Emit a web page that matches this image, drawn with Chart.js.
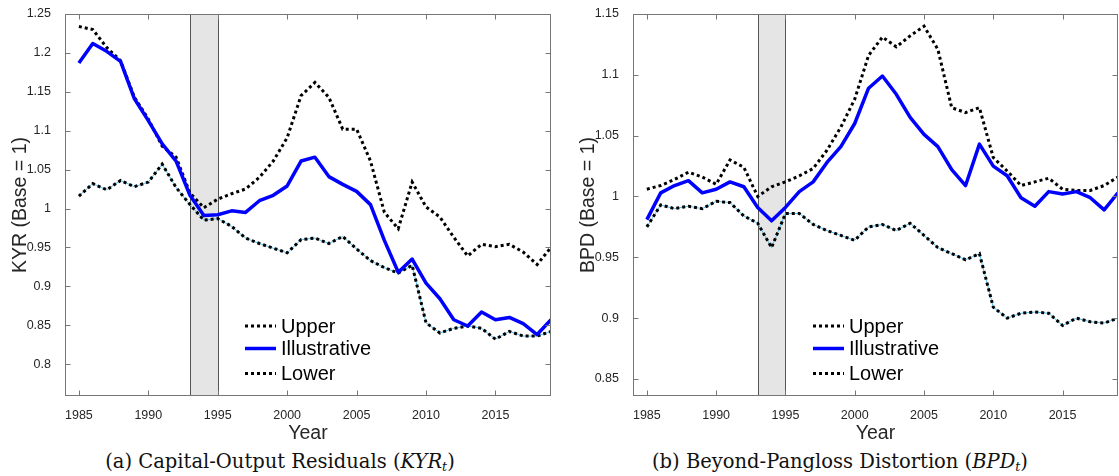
<!DOCTYPE html>
<html lang="en">
<head>
    <meta charset="UTF-8">
    <title>KYR and BPD bounds</title>
    <script src="https://cdn.jsdelivr.net/npm/chart.js@4.4.0/dist/chart.umd.min.js"></script>
    <style>
        body { margin: 0; background: #fff; }
        .page { position: relative; width: 1119px; height: 476px; overflow: hidden; }
        .panel { position: absolute; top: 0; }
        .caption {
            position: absolute;
            top: 450px;
            width: 560px;
            text-align: center;
            font-family: 'DejaVu Serif', 'Liberation Serif', serif;
            font-size: 19.5px;
            color: #111;
            white-space: nowrap;
        }
        .caption sub { font-size: 12.5px; vertical-align: -3px; }
    </style>
</head>
<body>
<div class="page">
    <div class="panel" style="left:0px;width:560px;height:445px;">
        <canvas id="kyrChart" width="560" height="445"></canvas>
    </div>
    <div class="panel" style="left:568px;width:551px;height:445px;">
        <canvas id="bpdChart" width="551" height="445"></canvas>
    </div>
    <div class="caption" style="left:0px;">(a) Capital-Output Residuals (<i>KYR</i><sub><i>t</i></sub>)</div>
    <div class="caption" style="left:560px;">(b) Beyond-Pangloss Distortion (<i>BPD</i><sub><i>t</i></sub>)</div>
</div>
<script>
    var years = [1985, 1986, 1987, 1988, 1989, 1990, 1991, 1992, 1993, 1994,
                 1995, 1996, 1997, 1998, 1999, 2000, 2001, 2002, 2003, 2004,
                 2005, 2006, 2007, 2008, 2009, 2010, 2011, 2012, 2013, 2014,
                 2015, 2016, 2017, 2018, 2019];

    // panel (a) KYR
    var kyrUpper = [1.234, 1.230, 1.207, 1.190, 1.143, 1.115, 1.080, 1.066, 1.020, 1.001,
                    1.012, 1.019, 1.025, 1.040, 1.061, 1.091, 1.145, 1.162, 1.143, 1.102,
                    1.102, 1.061, 0.995, 0.974, 1.034, 1.002, 0.989, 0.963, 0.939, 0.954,
                    0.951, 0.954, 0.944, 0.928, 0.950];
    var kyrIllus = [1.187, 1.212, 1.202, 1.189, 1.141, 1.113, 1.083, 1.061, 1.017, 0.991,
                    0.992, 0.997, 0.995, 1.010, 1.017, 1.029, 1.061, 1.066, 1.041, 1.031,
                    1.022, 1.005, 0.959, 0.918, 0.935, 0.904, 0.884, 0.857, 0.849, 0.867,
                    0.857, 0.860, 0.852, 0.838, 0.857];
    var kyrLower = [1.016, 1.032, 1.024, 1.036, 1.028, 1.034, 1.057, 1.027, 1.005, 0.985,
                    0.987, 0.977, 0.962, 0.955, 0.949, 0.943, 0.960, 0.962, 0.955, 0.964,
                    0.948, 0.933, 0.924, 0.917, 0.927, 0.853, 0.840, 0.846, 0.849, 0.846,
                    0.832, 0.842, 0.836, 0.836, 0.842];

    // panel (b) BPD
    var bpdUpper = [1.006, 1.009, 1.014, 1.020, 1.016, 1.010, 1.030, 1.024, 1.000, 1.008,
                    1.012, 1.017, 1.023, 1.038, 1.057, 1.080, 1.116, 1.131, 1.123, 1.132,
                    1.140, 1.121, 1.073, 1.069, 1.073, 1.032, 1.021, 1.009, 1.012, 1.015,
                    1.006, 1.005, 1.005, 1.009, 1.016];
    var bpdIllus = [0.981, 1.003, 1.009, 1.013, 1.003, 1.006, 1.012, 1.008, 0.991, 0.980,
                    0.991, 1.004, 1.012, 1.028, 1.041, 1.060, 1.089, 1.099, 1.084, 1.065,
                    1.051, 1.041, 1.022, 1.009, 1.043, 1.025, 1.017, 0.999, 0.992, 1.004,
                    1.002, 1.004, 0.999, 0.989, 1.003];
    var bpdLower = [0.975, 0.993, 0.990, 0.992, 0.990, 0.996, 0.995, 0.984, 0.978, 0.958,
                    0.986, 0.986, 0.977, 0.972, 0.968, 0.964, 0.975, 0.977, 0.972, 0.978,
                    0.968, 0.958, 0.953, 0.948, 0.953, 0.909, 0.900, 0.904, 0.905, 0.904,
                    0.894, 0.900, 0.897, 0.896, 0.900];

    var xTicks = [1985, 1990, 1995, 2000, 2005, 2010, 2015];
    var kyrTicks = [0.8, 0.85, 0.9, 0.95, 1, 1.05, 1.1, 1.15, 1.2, 1.25];
    var bpdTicks = [0.85, 0.9, 0.95, 1, 1.05, 1.1, 1.15];
    var shadeYears = [1993, 1995];

    Chart.defaults.font.family = "'Liberation Sans', Arial, sans-serif";
    Chart.defaults.color = '#262626';

    // shaded band, MATLAB-like box with inward ticks, in-axes legend
    var axesBox = {
        id: 'axesBox',
        beforeDatasetsDraw: function (chart, args, o) {
            var ctx = chart.ctx, a = chart.chartArea, sx = chart.scales.x;
            var x0 = Math.round(sx.getPixelForValue(o.shade[0])) + 0.5;
            var x1 = Math.round(sx.getPixelForValue(o.shade[1])) + 0.5;
            ctx.save();
            ctx.fillStyle = '#e5e5e5';
            ctx.fillRect(x0, a.top, x1 - x0, a.bottom - a.top);
            ctx.strokeStyle = '#555';
            ctx.lineWidth = 1;
            ctx.beginPath();
            ctx.moveTo(x0, a.top); ctx.lineTo(x0, a.bottom);
            ctx.moveTo(x1, a.top); ctx.lineTo(x1, a.bottom);
            ctx.stroke();
            ctx.restore();
        },
        afterDatasetsDraw: function (chart, args, o) {
            var ctx = chart.ctx, a = chart.chartArea;
            var sx = chart.scales.x, sy = chart.scales.y;
            var L = Math.round(a.left) + 0.5, R = Math.round(a.right) - 0.5;
            var T = Math.round(a.top) + 0.5, B = Math.round(a.bottom) - 0.5;
            ctx.save();
            ctx.strokeStyle = '#767676';
            ctx.lineWidth = 1;
            ctx.strokeRect(L, T, R - L, B - T);
            ctx.beginPath();
            sx.ticks.forEach(function (t) {
                var px = Math.round(sx.getPixelForValue(t.value)) + 0.5;
                ctx.moveTo(px, B); ctx.lineTo(px, B - 5);
                ctx.moveTo(px, T); ctx.lineTo(px, T + 5);
            });
            sy.ticks.forEach(function (t) {
                var py = Math.round(sy.getPixelForValue(t.value)) + 0.5;
                ctx.moveTo(L, py); ctx.lineTo(L + 5, py);
                ctx.moveTo(R, py); ctx.lineTo(R - 5, py);
            });
            ctx.stroke();

            // legend
            var lx = a.left + o.legend.x;
            var row = 0;
            ctx.font = "20px 'Liberation Sans', Arial, sans-serif";
            ctx.textBaseline = 'middle';
            ctx.textAlign = 'left';
            chart.data.datasets.forEach(function (ds) {
                if (!ds.label) return;
                var ly = a.top + o.legend.y[row++];
                ctx.setLineDash(ds.borderDash || []);
                ctx.lineWidth = ds.borderWidth;
                ctx.strokeStyle = ds.borderColor;
                ctx.lineCap = 'butt';
                ctx.beginPath();
                ctx.moveTo(lx, ly);
                ctx.lineTo(lx + 31, ly);
                ctx.stroke();
                ctx.setLineDash([]);
                ctx.fillStyle = '#000';
                ctx.fillText(ds.label, lx + 36, ly + 1);
            });
            ctx.restore();
        }
    };

    function makeChart(id, upper, illus, lower, yTicks, yMin, yMax, yTitle, rightPad) {
        var pts = function (vals) {
            return years.map(function (yr, i) { return {x: yr, y: vals[i]}; });
        };
        var dotted = {
            borderColor: '#000',
            borderWidth: 3,
            borderDash: [3, 3],
            borderCapStyle: 'butt',
            pointRadius: 0,
            fill: false
        };
        return new Chart(document.getElementById(id), {
            type: 'line',
            data: {
                datasets: [
                    Object.assign({label: 'Upper', data: pts(upper), order: 1}, dotted),
                    {
                        label: 'Illustrative',
                        data: pts(illus),
                        borderColor: '#0000ff',
                        borderWidth: 3.5,
                        borderJoinStyle: 'round',
                        pointRadius: 0,
                        fill: false,
                        order: 0
                    },
                    Object.assign({label: 'Lower', data: pts(lower), order: 1}, dotted),
                    {
                        label: '',
                        data: pts(lower),
                        borderColor: '#4dbeee',
                        borderWidth: 1,
                        pointRadius: 0,
                        fill: false,
                        order: 3
                    }
                ]
            },
            options: {
                responsive: false,
                animation: false,
                devicePixelRatio: 1,
                layout: { padding: { top: 14, right: rightPad, left: 0, bottom: 0 } },
                plugins: {
                    legend: { display: false },
                    tooltip: { enabled: false },
                    axesBox: { shade: shadeYears, legend: { x: 180, y: [312, 334.5, 359.5] } }
                },
                scales: {
                    x: {
                        type: 'linear',
                        min: 1984,
                        max: 2019,
                        grid: { display: false },
                        border: { display: false },
                        afterBuildTicks: function (s) { s.ticks = xTicks.map(function (v) { return {value: v}; }); },
                        afterFit: function (s) { s.height = 49; },
                        ticks: {
                            font: { size: 12.5 },
                            padding: 4,
                            maxRotation: 0,
                            callback: function (v) { return String(v); }
                        },
                        title: {
                            display: true,
                            text: 'Year',
                            color: '#262626',
                            font: { size: 19.5 },
                            padding: { top: 0, bottom: 0 }
                        }
                    },
                    y: {
                        min: yMin,
                        max: yMax,
                        grid: { display: false },
                        border: { display: false },
                        afterBuildTicks: function (s) { s.ticks = yTicks.map(function (v) { return {value: v}; }); },
                        afterFit: function (s) { s.width = 65; },
                        ticks: {
                            font: { size: 12.5 },
                            padding: 6,
                            callback: function (v) { return String(Math.round(v * 100) / 100); }
                        },
                        title: {
                            display: true,
                            text: yTitle,
                            color: '#262626',
                            font: { size: 19.5 },
                            padding: { top: 9, bottom: 0 }
                        }
                    }
                }
            },
            plugins: [axesBox]
        });
    }

    makeChart('kyrChart', kyrUpper, kyrIllus, kyrLower, kyrTicks, 0.759, 1.25, 'KYR (Base = 1)', 9);
    makeChart('bpdChart', bpdUpper, bpdIllus, bpdLower, bpdTicks, 0.836, 1.15, 'BPD (Base = 1)', 1);
</script>
</body>
</html>
